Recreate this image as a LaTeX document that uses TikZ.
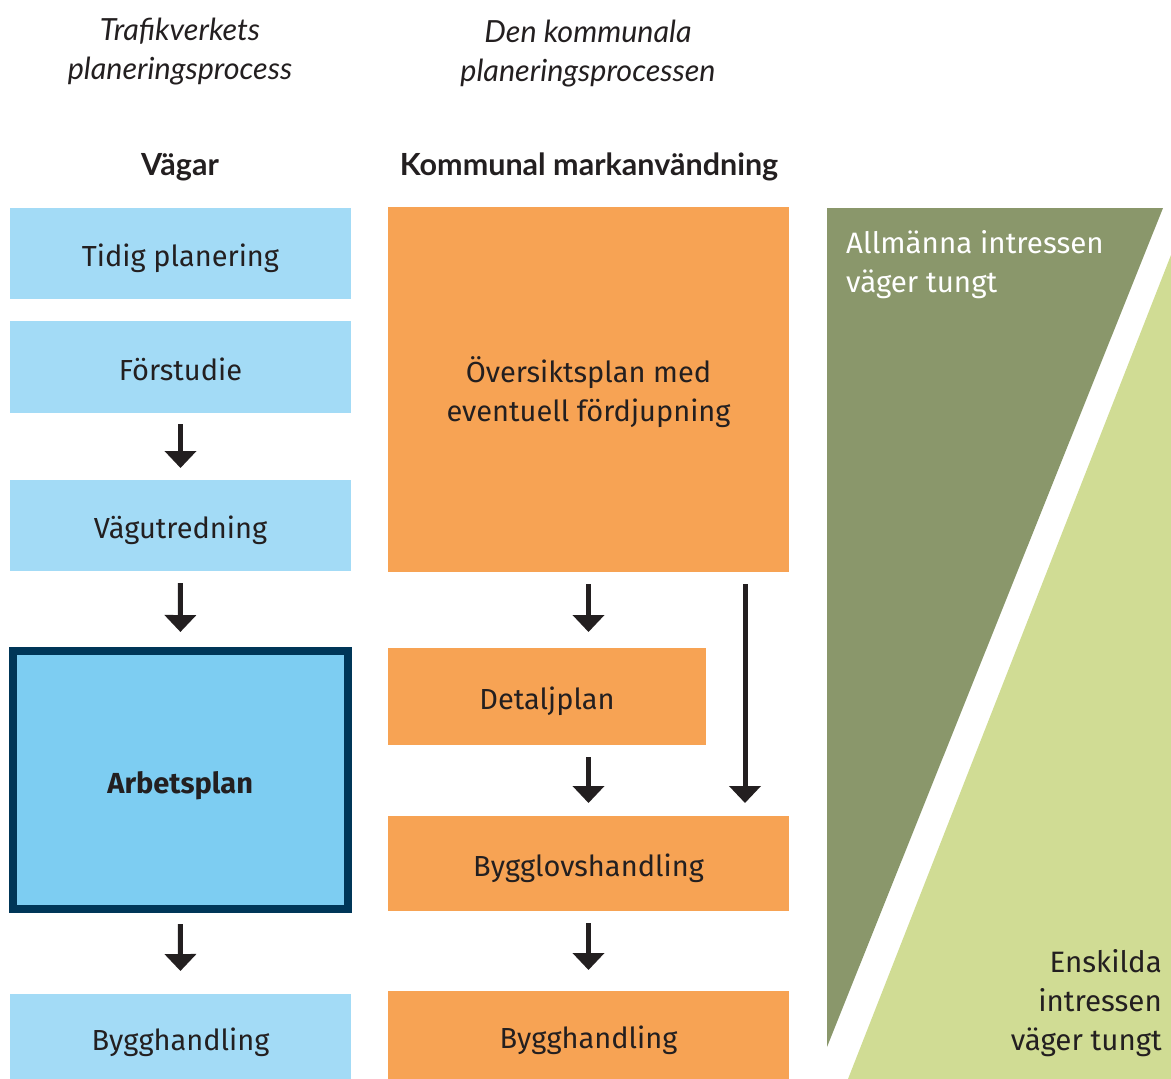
\documentclass[tikz,border=0pt]{standalone}
\usepackage{fontspec}
\setmainfont{Fira Sans}
\newfontfamily\headfont{Lato}
\usetikzlibrary{arrows.meta}

\definecolor{vagblue}{HTML}{A3DBF6}
\definecolor{arbblue}{HTML}{7DCDF2}
\definecolor{navy}{HTML}{003658}
\definecolor{komorange}{HTML}{F7A354}
\definecolor{dkgreen}{HTML}{8A976B}
\definecolor{ltgreen}{HTML}{D0DC94}
\definecolor{ink}{HTML}{231F20}

\tikzset{
  box/.style={inner sep=0pt, outer sep=0pt, text=ink, align=center,
    font=\fontsize{29}{39}\selectfont},
  oneline/.style={text height=26pt, text depth=0pt},
  vagbox/.style={box, oneline, fill=vagblue, minimum width=341pt},
  kombox/.style={box, fill=komorange},
  flow/.style={draw=ink, line width=5pt,
    -{Triangle[width=31pt,length=17pt]}, shorten <=12pt, shorten >=13pt},
  title/.style={text=ink, align=center, font=\headfont\fontsize{30.5}{39}\selectfont},
  weight/.style={inner sep=0pt, font=\fontsize{29.5}{39}\selectfont},
}

\begin{document}
\begin{tikzpicture}[x=1pt,y=-1pt]
\useasboundingbox (0,0) rectangle (1171,1079);

% column headings
\node[title] (head1) at (180,52) {\itshape Trafikverkets\\\itshape planeringsprocess};
\node[title] (head2) at (588,54) {\itshape Den kommunala\\\itshape planeringsprocessen};
\node[title] (vagar) at (180,167) {\bfseries Vägar};
\node[title] (kommun) at (589,167) {\bfseries Kommunal markanvändning};

% road planning column
\node[vagbox, minimum height=91pt] (tidig) at (180.5,253.5) {Tidig planering};
\node[vagbox, minimum height=92pt] (forstudie) at (180.5,367) {Förstudie};
\node[vagbox, minimum height=91pt] (vagutr) at (180.5,525.5) {Vägutredning};
\node[box, oneline, fill=arbblue, draw=navy, line width=8pt, minimum width=335.5pt,
  minimum height=258pt] (arbplan) at (180.25,780) {\bfseries Arbetsplan};
\node[vagbox, minimum height=86pt] (bygg1) at (180.5,1037) {Bygghandling};

% municipal column
\node[kombox, text depth=0pt, minimum width=401pt, minimum height=365pt] (oversikt) at (588.5,389.5)
  {Översiktsplan med\\eventuell fördjupning};
\node[kombox, oneline, minimum width=318pt, minimum height=97pt] (detalj) at (547,696.5) {Detaljplan};
\node[kombox, oneline, minimum width=401pt, minimum height=95pt] (bygglov) at (588.5,863.5) {Bygglovshandling};
\node[kombox, oneline, minimum width=401pt, minimum height=89pt] (bygg2) at (588.5,1035.5) {Bygghandling};

% arrows
\draw[flow, shorten <=11pt, shorten >=12pt] (forstudie) -- (vagutr);
\draw[flow, shorten >=19pt] (vagutr) -- (arbplan);
\draw[flow, shorten <=15pt, shorten >=23pt] (arbplan) -- (bygg1);
\draw[flow, shorten >=16pt] (oversikt) -- (oversikt |- detalj.north);
\draw[flow] (oversikt |- detalj.south) -- (bygglov);
\draw[flow] ([xshift=-44pt]oversikt.south east) -- ([xshift=-44pt]bygglov.north east);
\draw[flow, shorten >=21pt] (bygglov) -- (bygg2);

% weighting of interests
\fill[dkgreen] (827,208) -- (1163,208) -- (827,1047) -- cycle;
\fill[ltgreen] (1171,255) -- (1171,1079) -- (848,1079) -- cycle;
\node[weight, text=white, align=left, anchor=west] (allm) at (846,265)
  {Allmänna intressen\\väger tungt};
\node[weight, text=ink, align=right, anchor=east] (enskild) at (1162,1003)
  {Enskilda\\intressen\\väger tungt};
\end{tikzpicture}
\end{document}
